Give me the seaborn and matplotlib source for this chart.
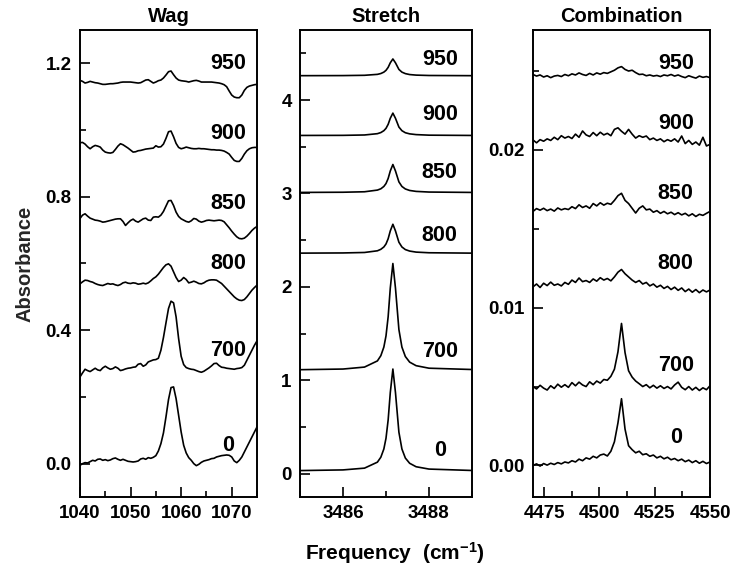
import numpy as np
import matplotlib
matplotlib.use("Agg")
import matplotlib.pyplot as plt
import seaborn as sns
from matplotlib.ticker import MultipleLocator, FormatStrFormatter

# ---------------- data ----------------
temps = ["0", "700", "800", "850", "900", "950"]

# Wag: 1040 .. 1075 cm-1, step 0.5
wag_x = np.arange(1040.0, 1075.01, 0.5)
wag_0 = [-0.005, 0.000, 0.003, 0.002, 0.006, 0.010, 0.008, 0.013, 0.014, 0.010,
         0.012, 0.009, 0.011, 0.015, 0.017, 0.013, 0.010, 0.013, 0.010, 0.007,
         0.006, 0.005, 0.006, 0.008, 0.014, 0.016, 0.013, 0.018, 0.016, 0.019,
         0.024, 0.038, 0.060, 0.092, 0.140, 0.192, 0.228, 0.230, 0.195, 0.145,
         0.095, 0.055, 0.032, 0.018, 0.010, 0.000, -0.006, -0.002, 0.004, 0.008,
         0.010, 0.012, 0.015, 0.016, 0.020, 0.022, 0.024, 0.025, 0.026, 0.025,
         0.020, 0.008, 0.003, 0.010, 0.020, 0.035, 0.050, 0.065, 0.080, 0.095,
         0.110]
wag_700 = [0.260, 0.272, 0.283, 0.279, 0.276, 0.281, 0.286, 0.281, 0.279, 0.287,
           0.292, 0.287, 0.283, 0.285, 0.290, 0.286, 0.279, 0.281, 0.284, 0.286,
           0.287, 0.289, 0.290, 0.298, 0.300, 0.292, 0.296, 0.305, 0.308, 0.311,
           0.312, 0.316, 0.340, 0.378, 0.422, 0.465, 0.487, 0.482, 0.440, 0.375,
           0.322, 0.297, 0.288, 0.285, 0.283, 0.282, 0.279, 0.276, 0.274, 0.277,
           0.282, 0.287, 0.293, 0.300, 0.301, 0.294, 0.289, 0.288, 0.286, 0.285,
           0.284, 0.283, 0.285, 0.286, 0.288, 0.295, 0.310, 0.325, 0.340, 0.355,
           0.368]
wag_800 = [0.539, 0.545, 0.550, 0.549, 0.546, 0.544, 0.540, 0.537, 0.535, 0.534,
           0.537, 0.540, 0.538, 0.539, 0.536, 0.534, 0.537, 0.542, 0.544, 0.541,
           0.540, 0.542, 0.541, 0.538, 0.539, 0.541, 0.539, 0.542, 0.548, 0.555,
           0.560, 0.568, 0.578, 0.588, 0.596, 0.599, 0.592, 0.575, 0.558, 0.546,
           0.550, 0.558, 0.552, 0.542, 0.544, 0.547, 0.544, 0.540, 0.539, 0.542,
           0.547, 0.550, 0.551, 0.551, 0.550, 0.545, 0.540, 0.532, 0.524, 0.516,
           0.508, 0.500, 0.494, 0.490, 0.489, 0.492, 0.500, 0.510, 0.520, 0.528,
           0.535]
wag_850 = [0.735, 0.745, 0.749, 0.742, 0.736, 0.733, 0.730, 0.729, 0.727, 0.724,
           0.725, 0.727, 0.729, 0.731, 0.733, 0.734, 0.734, 0.726, 0.714, 0.722,
           0.729, 0.733, 0.727, 0.724, 0.729, 0.734, 0.736, 0.730, 0.729, 0.739,
           0.740, 0.739, 0.745, 0.756, 0.772, 0.788, 0.789, 0.774, 0.754, 0.741,
           0.734, 0.730, 0.726, 0.724, 0.728, 0.735, 0.733, 0.727, 0.724, 0.726,
           0.729, 0.730, 0.729, 0.728, 0.729, 0.730, 0.729, 0.725, 0.716, 0.707,
           0.697, 0.688, 0.680, 0.675, 0.674, 0.676, 0.682, 0.690, 0.699, 0.706,
           0.711]
wag_900 = [0.962, 0.963, 0.958, 0.950, 0.944, 0.950, 0.954, 0.952, 0.949, 0.940,
           0.934, 0.932, 0.931, 0.933, 0.942, 0.952, 0.959, 0.956, 0.951, 0.946,
           0.940, 0.934, 0.935, 0.938, 0.939, 0.941, 0.943, 0.944, 0.945, 0.946,
           0.953, 0.949, 0.950, 0.958, 0.975, 0.995, 0.997, 0.980, 0.960, 0.948,
           0.944, 0.946, 0.949, 0.947, 0.945, 0.944, 0.944, 0.945, 0.944, 0.944,
           0.943, 0.942, 0.941, 0.941, 0.940, 0.940, 0.939, 0.937, 0.933, 0.928,
           0.918, 0.909, 0.906, 0.906, 0.915, 0.928, 0.938, 0.944, 0.947, 0.948,
           0.948]
wag_950 = [1.149, 1.146, 1.141, 1.143, 1.146, 1.144, 1.142, 1.141, 1.139, 1.137,
           1.137, 1.138, 1.139, 1.139, 1.140, 1.141, 1.143, 1.144, 1.144, 1.144,
           1.144, 1.143, 1.142, 1.141, 1.142, 1.146, 1.150, 1.151, 1.146, 1.141,
           1.144, 1.148, 1.150, 1.156, 1.165, 1.175, 1.177, 1.166, 1.156, 1.150,
           1.148, 1.147, 1.146, 1.144, 1.146, 1.148, 1.149, 1.147, 1.144, 1.144,
           1.144, 1.144, 1.144, 1.143, 1.142, 1.141, 1.139, 1.136, 1.130, 1.117,
           1.105, 1.099, 1.097, 1.097, 1.105, 1.119, 1.128, 1.132, 1.134, 1.136,
           1.137]

# Stretch: sampled more densely around the narrow line
str_x = [3485.0, 3486.0, 3486.5, 3486.8, 3486.88, 3486.95, 3487.0, 3487.05, 3487.1,
         3487.16, 3487.22, 3487.3, 3487.37, 3487.45, 3487.55, 3487.7, 3488.0, 3489.0]
str_0 = [0.033, 0.040, 0.059, 0.123, 0.176, 0.264, 0.379, 0.575, 0.869,
         1.120, 0.869, 0.444, 0.264, 0.167, 0.111, 0.074, 0.049, 0.034]
str_700 = [1.113, 1.120, 1.141, 1.207, 1.263, 1.355, 1.475, 1.680, 1.988,
           2.250, 1.988, 1.543, 1.355, 1.254, 1.194, 1.156, 1.129, 1.115]
str_800 = [2.361, 2.363, 2.368, 2.386, 2.402, 2.427, 2.459, 2.515, 2.599,
           2.670, 2.599, 2.478, 2.427, 2.399, 2.383, 2.372, 2.365, 2.361]
str_850 = [3.011, 3.013, 3.018, 3.036, 3.050, 3.075, 3.106, 3.160, 3.241,
           3.310, 3.241, 3.124, 3.075, 3.048, 3.032, 3.022, 3.015, 3.011]
str_900 = [3.621, 3.622, 3.626, 3.640, 3.652, 3.672, 3.697, 3.740, 3.805,
           3.860, 3.805, 3.711, 3.672, 3.650, 3.638, 3.630, 3.624, 3.621]
str_950 = [4.261, 4.262, 4.265, 4.275, 4.284, 4.299, 4.318, 4.350, 4.399,
           4.440, 4.399, 4.328, 4.299, 4.283, 4.273, 4.267, 4.263, 4.261]

# Combination: 4470 .. 4550 cm-1, 51 samples
comb_x = np.linspace(4470.0, 4550.0, 51)
comb_0 = [0.00000, 0.00010, -0.00004, 0.00012, 0.00002, 0.00014, 0.00006, 0.00018, 0.00010, 0.00022,
          0.00016, 0.00030, 0.00022, 0.00040, 0.00030, 0.00048, 0.00040, 0.00058, 0.00048, 0.00066,
          0.00072, 0.00060, 0.00090, 0.00150, 0.00270, 0.00423, 0.00230, 0.00125, 0.00100, 0.00080,
          0.00090, 0.00068, 0.00074, 0.00058, 0.00066, 0.00048, 0.00058, 0.00042, 0.00052, 0.00036,
          0.00044, 0.00030, 0.00040, 0.00024, 0.00034, 0.00018, 0.00030, 0.00014, 0.00026, 0.00012,
          0.00022]
comb_700 = [0.00500, 0.00485, 0.00508, 0.00490, 0.00478, 0.00505, 0.00488, 0.00515, 0.00496, 0.00512,
            0.00495, 0.00525, 0.00505, 0.00528, 0.00510, 0.00500, 0.00530, 0.00512, 0.00535, 0.00522,
            0.00545, 0.00540, 0.00565, 0.00610, 0.00720, 0.00900, 0.00715, 0.00600, 0.00560, 0.00535,
            0.00518, 0.00500, 0.00512, 0.00492, 0.00508, 0.00490, 0.00505, 0.00488, 0.00500, 0.00485,
            0.00510, 0.00528, 0.00495, 0.00480, 0.00500, 0.00478, 0.00495, 0.00475, 0.00492, 0.00480,
            0.00505]
comb_800 = [0.01132, 0.01150, 0.01128, 0.01155, 0.01140, 0.01162, 0.01142, 0.01150, 0.01138, 0.01160,
            0.01148, 0.01175, 0.01160, 0.01188, 0.01165, 0.01172, 0.01160, 0.01182, 0.01168, 0.01190,
            0.01175, 0.01185, 0.01170, 0.01195, 0.01225, 0.01242, 0.01215, 0.01195, 0.01175, 0.01160,
            0.01172, 0.01150, 0.01160, 0.01138, 0.01150, 0.01130, 0.01142, 0.01122, 0.01135, 0.01115,
            0.01130, 0.01110, 0.01125, 0.01102, 0.01118, 0.01098, 0.01115, 0.01095, 0.01112, 0.01100,
            0.01112]
comb_850 = [0.01610, 0.01628, 0.01618, 0.01630, 0.01615, 0.01625, 0.01612, 0.01632, 0.01620, 0.01628,
            0.01622, 0.01640, 0.01628, 0.01652, 0.01635, 0.01645, 0.01630, 0.01660, 0.01645, 0.01665,
            0.01650, 0.01662, 0.01655, 0.01680, 0.01710, 0.01725, 0.01680, 0.01660, 0.01630, 0.01600,
            0.01630, 0.01645, 0.01620, 0.01625, 0.01605, 0.01615, 0.01598, 0.01610, 0.01595, 0.01605,
            0.01590, 0.01602, 0.01588, 0.01598, 0.01582, 0.01595, 0.01578, 0.01592, 0.01585, 0.01598,
            0.01610]
comb_900 = [0.02063, 0.02045, 0.02065, 0.02055, 0.02070, 0.02060, 0.02080, 0.02065, 0.02090, 0.02075,
            0.02085, 0.02072, 0.02100, 0.02080, 0.02120, 0.02095, 0.02085, 0.02110, 0.02090, 0.02112,
            0.02095, 0.02105, 0.02090, 0.02130, 0.02140, 0.02118, 0.02100, 0.02130, 0.02100, 0.02075,
            0.02090, 0.02080, 0.02088, 0.02065, 0.02075, 0.02060, 0.02070, 0.02052, 0.02065, 0.02055,
            0.02070, 0.02050, 0.02088, 0.02040, 0.02060, 0.02035, 0.02050, 0.02030, 0.02080, 0.02025,
            0.02035]
comb_950 = [0.02478, 0.02468, 0.02475, 0.02462, 0.02470, 0.02458, 0.02468, 0.02472, 0.02465, 0.02478,
            0.02470, 0.02482, 0.02475, 0.02488, 0.02478, 0.02472, 0.02485, 0.02475, 0.02488, 0.02480,
            0.02490, 0.02485, 0.02495, 0.02505, 0.02520, 0.02528, 0.02510, 0.02500, 0.02505, 0.02490,
            0.02478, 0.02480, 0.02470, 0.02475, 0.02468, 0.02472, 0.02465, 0.02475, 0.02470, 0.02478,
            0.02468, 0.02475, 0.02465, 0.02458, 0.02470, 0.02462, 0.02455, 0.02468, 0.02460, 0.02465,
            0.02458]

# label anchor (x, y) per panel, same order as temps
wag_lab_x = 1069.3
wag_lab_y = [0.054, 0.339, 0.599, 0.779, 0.989, 1.200]
str_lab_x = 3488.25
str_lab_y = [0.25, 1.31, 2.55, 3.22, 3.84, 4.43]
comb_lab_x = 4534.5
comb_lab_y = [0.0018, 0.00635, 0.0128, 0.01725, 0.0217, 0.0255]

# ---------------- plotting ----------------
sns.set_style("ticks")
plt.rcParams["font.family"] = ["Liberation Sans", "DejaVu Sans"]
plt.rcParams["font.weight"] = "bold"
plt.rcParams["mathtext.default"] = "regular"
plt.rcParams["text.color"] = "black"
plt.rcParams["xtick.color"] = "black"
plt.rcParams["ytick.color"] = "black"
plt.rcParams["axes.edgecolor"] = "black"

fig = plt.figure(figsize=(7.33, 5.72), dpi=100)
bottom, top = 1 - 497 / 572, 1 - 30 / 572
ax_wag = fig.add_axes([80 / 733, bottom, 177 / 733, top - bottom])
ax_str = fig.add_axes([300 / 733, bottom, 172 / 733, top - bottom])
ax_comb = fig.add_axes([533 / 733, bottom, 177 / 733, top - bottom])

panels = [
    (ax_wag, "Wag", wag_x, [wag_0, wag_700, wag_800, wag_850, wag_900, wag_950],
     wag_lab_x, wag_lab_y),
    (ax_str, "Stretch", str_x, [str_0, str_700, str_800, str_850, str_900, str_950],
     str_lab_x, str_lab_y),
    (ax_comb, "Combination", comb_x, [comb_0, comb_700, comb_800, comb_850, comb_900, comb_950],
     comb_lab_x, comb_lab_y),
]

for ax, title, x, curves, lx, ly in panels:
    for t, y, yy in zip(temps, curves, ly):
        sns.lineplot(x=x, y=y, ax=ax, color="black", lw=1.2, estimator=None)
        ax.text(lx, yy, t, ha="center", va="center", fontsize=15.5, fontweight="bold")
    ax.set_title(title, fontsize=14.5, fontweight="bold", pad=6)
    ax.set_xlabel("")
    ax.set_ylabel("")
    for s in ax.spines.values():
        s.set_linewidth(1.4)
        s.set_visible(True)
    ax.tick_params(which="both", direction="in", top=False, right=False,
                   width=1.2, labelsize=13.5, pad=6)
    ax.tick_params(which="major", length=7)
    ax.tick_params(which="minor", length=4)

ax_wag.set_xlim(1040, 1075)
ax_wag.set_ylim(-0.1, 1.3)
ax_wag.xaxis.set_major_locator(MultipleLocator(10))
ax_wag.xaxis.set_minor_locator(MultipleLocator(5))
ax_wag.yaxis.set_major_locator(MultipleLocator(0.4))
ax_wag.yaxis.set_minor_locator(MultipleLocator(0.2))
ax_wag.yaxis.set_major_formatter(FormatStrFormatter("%.1f"))
ax_wag.set_ylabel("Absorbance", fontsize=14.5, fontweight="bold", labelpad=8)

ax_str.set_xlim(3485, 3489)
ax_str.set_ylim(-0.25, 4.75)
ax_str.xaxis.set_major_locator(MultipleLocator(2))
ax_str.xaxis.set_minor_locator(MultipleLocator(1))
ax_str.yaxis.set_major_locator(MultipleLocator(1))
ax_str.yaxis.set_minor_locator(MultipleLocator(0.5))

ax_comb.set_xlim(4470, 4550)
ax_comb.set_ylim(-0.002, 0.0276)
ax_comb.set_xticks([4475, 4500, 4525, 4550])
ax_comb.xaxis.set_minor_locator(MultipleLocator(12.5))
ax_comb.yaxis.set_major_locator(MultipleLocator(0.01))
ax_comb.yaxis.set_minor_locator(MultipleLocator(0.005))
ax_comb.yaxis.set_major_formatter(FormatStrFormatter("%.2f"))

fig.text(395 / 733, 1 - 553 / 572, "Frequency  (cm$^{-1}$)", ha="center", va="center",
         fontsize=15, fontweight="bold")

fig.savefig("out.png", dpi=100)
